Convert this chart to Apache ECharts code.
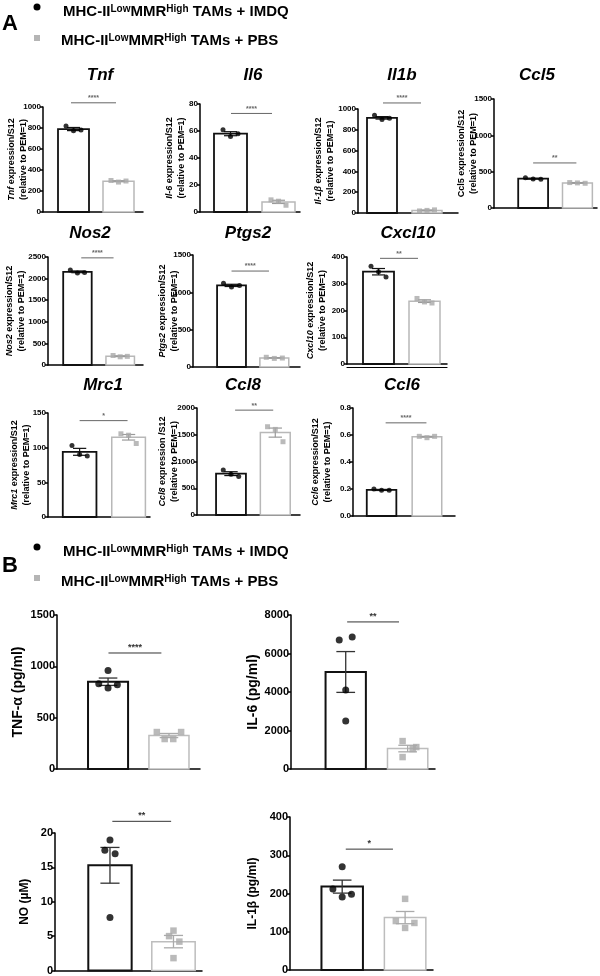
<!DOCTYPE html>
<html><head><meta charset="utf-8">
<script src="https://cdn.jsdelivr.net/npm/echarts@6/dist/echarts.min.js"></script>
<style>html,body{margin:0;padding:0;background:#fff}#c{width:600px;height:976px}</style>
</head><body><div id="c"></div>
<script>
// ================= DATA: panel A (qPCR, expression/S12 relative to PEM=1) =================
const genesA = ['Tnf','Il6','Il1b','Ccl5','Nos2','Ptgs2','Cxcl10','Mrc1','Ccl8','Ccl6'];
const yNamesA = ['{i|Tnf} expression/S12','{i|Il-6} expression/S12','{i|Il-1β} expression/S12','Ccl5 expression/S12',
  '{i|Nos2} expression/S12','{i|Ptgs2} expression/S12','{i|Cxcl10} expression/S12','{i|Mrc1} expression/S12',
  '{i|Ccl8} expression /S12','{i|Ccl6} expression/S12'];
const yMaxA  = [1000, 80, 1000, 1500, 2500, 1500, 400, 150, 2000, 0.8];
const yStepA = [200, 20, 200, 500, 500, 500, 100, 50, 500, 0.2];
const imdqMeanA = [790, 58, 915, 403, 2157, 1093, 345, 94, 773, 0.193];
const imdqSemA  = [15, 1.5, 12, 6, 20, 15, 12, 5, 36, 0.004];
const pbsMeanA  = [293, 7.5, 25, 345, 203, 122, 235, 115, 1540, 0.587];
const pbsSemA   = [5, 1.2, 4, 5, 9, 4, 5, 4, 85, 0.003];
const imdqPtsA = [[820,775,780],[61,56,58],[940,900,910],[415,400,395],[2200,2130,2140],
  [1120,1070,1090],[365,345,325],[103,90,88],[840,760,720],[0.20,0.19,0.19]];
const pbsPtsA = [[300,285,295],[9,8,5],[20,25,30],[350,345,340],[220,190,200],
  [130,115,120],[245,232,228],[120,118,106],[1650,1600,1370],[0.59,0.58,0.59]];
const sigA  = ['****','****','****','**','****','****','**','*','**','****'];
const sigYA = [1040, 73, 1058, 620, 2480, 1285, 395, 139, 1960, 0.69];

// ================= DATA: panel B (secreted mediators) =================
const yNamesB = ['TNF-α (pg/ml)','IL-6 (pg/ml)','NO (µM)','IL-1β (pg/ml)'];
const yMaxB  = [1500, 8000, 20, 400];
const yStepB = [500, 2000, 5, 100];
const imdqMeanB = [850, 5040, 15.3, 218];
const imdqSemB  = [36, 1060, 2.6, 17];
const pbsMeanB  = [326, 1062, 4.2, 137];
const pbsSemB   = [20, 170, 0.9, 16];
const imdqPtsB = [[960,830,790,820],[6700,6860,4100,2500],[19,17.5,17,7.7],[270,212,191,198]];
const pbsPtsB  = [[360,292,292,360],[1450,1140,1040,620],[5.8,5.0,4.2,1.8],[186,128,123,110]];
const sigB  = ['****','**','**','*'];
const sigYB = [1130, 7640, 21.7, 316];

// ================= LAYOUT (pixels / axis fractions) =================
const FONT = '"Liberation Sans", Arial, Helvetica, sans-serif';
// [left, right, top(max), bottom(0)]
const boxA = [[43,143,107,212],[200,300,104,212],[358,458,109,213],[494,597,99,208],
  [48,143,257,365],[193,300,255,367],[347,447,257,364],
  [48,150,413,517],[197,300,408,515],[353,455,408,516]];
const xPosA = [[0.305,0.755],[0.305,0.785],[0.24,0.69],[0.38,0.81],[0.31,0.76],[0.36,0.76],[0.315,0.775],
  [0.31,0.79],[0.33,0.76],[0.28,0.725]];
const barWA = [0.31,0.33,0.30,0.29,0.30,0.27,0.31,0.33,0.29,0.29];
const sigXA = [[0.28,0.73],[0.31,0.72],[0.25,0.63],[0.38,0.80],[0.35,0.69],[0.36,0.71],[0.33,0.71],
  [0.31,0.78],[0.37,0.74],[0.32,0.72]];
const nameGapA = [13,12,21,14,20,12,18,15,16,19];
const titlePosA = [[100,75],[253,75],[402,75],[537,75],[90,233],[248,233],[408,233],[103,385],[243,385],[402,385]];
const jitA = [-0.075, 0, 0.075];

const boxB = [[57,200,615,769],[291,435,615,769],[55,202,833,971],[290,433,817,970]];
const xPosB = [[0.357,0.783],[0.38,0.81],[0.374,0.806],[0.365,0.805]];
const barWB = [0.28,0.28,0.295,0.29];
const sigXB = [[0.36,0.73],[0.39,0.75],[0.39,0.79],[0.39,0.72]];
const nameGapB = [32,28,23,30];
const nameSizeB = [14,14,12,12];
const jitB = [
  [[0,-0.065,0,0.065],[-0.085,-0.03,0.03,0.085]],
  [[-0.045,0.045,0,0],[-0.035,0.06,0.035,-0.035]],
  [[0,-0.035,0.035,0],[0,-0.03,0.04,0]],
  [[0,-0.065,0,0.065],[0,-0.065,0.065,0]]
];

const grids=[], xAxes=[], yAxes=[], series=[], graphics=[];

function addPanel(o){
  const gi = grids.length;
  const [l,r,t,b] = o.box;
  grids.push({left:l, top:t, width:r-l, height:b-t});
  xAxes.push({gridIndex:gi, type:'value', min:0, max:1,
    axisLine:{show:true, onZero:false, lineStyle:{color:'#000', width:o.axisW}},
    axisTick:{show:false}, axisLabel:{show:false}, splitLine:{show:false}});
  if (o.doubleLine) {
    xAxes.push({gridIndex:gi, type:'value', min:0, max:1, position:'bottom', offset:3,
      axisLine:{show:true, onZero:false, lineStyle:{color:'#000', width:1.2}},
      axisTick:{show:false}, axisLabel:{show:false}, splitLine:{show:false}});
  }
  const xi = xAxes.length - (o.doubleLine ? 2 : 1);
  const ya = {gridIndex:gi, type:'value', min:0, max:o.yMax, interval:o.yStep,
    axisLine:{show:true, lineStyle:{color:'#000', width:o.axisW}},
    axisTick:{show:true, length:3, lineStyle:{color:'#000', width:o.axisW}},
    axisLabel:{fontSize:o.labelFont, fontWeight:'bold', color:'#000', margin:2, fontFamily:FONT,
      formatter: o.fmt || (v => String(Math.round(v)))},
    splitLine:{show:false},
    name:o.name, nameLocation:'middle', nameRotate:90, nameGap:o.nameGap,
    nameTextStyle:{fontSize:o.nameFont, fontWeight:'bold', color:'#000', fontFamily:FONT, lineHeight:o.nameLH,
      rich:{i:{fontStyle:'italic', fontWeight:'bold', fontSize:o.nameFont, fontFamily:FONT, color:'#000', lineHeight:o.nameLH}}}
  };
  if (o.noMove) ya.nameMoveOverlap = false;
  yAxes.push(ya);
  const yi = yAxes.length - 1;
  const centers = o.centers, bw = o.bw, cap = 0.13;
  const styles = o.styles;
  series.push({type:'custom', xAxisIndex:xi, yAxisIndex:yi, z:2, clip:false,
    encode:{x:0, y:1},
    data:[[0, o.means[0], o.sems[0]], [1, o.means[1], o.sems[1]]],
    renderItem:function(params, api){
      const g = api.value(0), m = api.value(1), s = api.value(2);
      const cx = centers[g];
      const top = api.coord([cx, m]);
      const base = api.coord([cx, 0]);
      const w = api.size([bw, 0])[0];
      const cw = api.size([cap, 0])[0];
      const hi = api.coord([cx, m + s]), lo = api.coord([cx, Math.max(0, m - s)]);
      const st = styles[g];
      const es = {stroke:st.err, lineWidth:st.elw};
      return {type:'group', children:[
        {type:'rect', shape:{x:top[0]-w/2, y:top[1], width:w, height:base[1]-top[1]},
          style:{fill:'#fff', stroke:st.stroke, lineWidth:st.lw}},
        {type:'line', shape:{x1:hi[0], y1:hi[1], x2:lo[0], y2:lo[1]}, style:es},
        {type:'line', shape:{x1:hi[0]-cw/2, y1:hi[1], x2:hi[0]+cw/2, y2:hi[1]}, style:es},
        {type:'line', shape:{x1:lo[0]-cw/2, y1:lo[1], x2:lo[0]+cw/2, y2:lo[1]}, style:es}
      ]};
    }});
  series.push({type:'scatter', xAxisIndex:xi, yAxisIndex:yi, z:5, symbol:'circle', symbolSize:o.dot,
    itemStyle:{color:'#000'},
    data:o.pts[0].map((v,k)=>[centers[0]+o.jit[0][k], v])});
  series.push({type:'scatter', xAxisIndex:xi, yAxisIndex:yi, z:5, symbol:'rect', symbolSize:o.sq,
    itemStyle:{color:'#a9a9a9'},
    data:o.pts[1].map((v,k)=>[centers[1]+o.jit[1][k], v])});
  const sx = o.sigX, sigText = o.sig, sc = o.sigColor, sf = o.sigFont;
  series.push({type:'custom', xAxisIndex:xi, yAxisIndex:yi, z:3, clip:false, encode:{x:0,y:1},
    data:[[0.5, o.sigY]],
    renderItem:function(params, api){
      const y = api.value(1);
      const p1 = api.coord([sx[0], y]), p2 = api.coord([sx[1], y]);
      return {type:'group', children:[
        {type:'line', shape:{x1:p1[0], y1:p1[1], x2:p2[0], y2:p2[1]}, style:{stroke:sc, lineWidth:1}},
        {type:'text', x:(p1[0]+p2[0])/2, y:p1[1]-1,
          style:{text:sigText, fill:sc, font:'bold '+sf+'px '+FONT, align:'center', verticalAlign:'bottom'}}
      ]};
    }});
}

const stylesA = [{stroke:'#111', lw:1.8, err:'#111', elw:1.2}, {stroke:'#b8b8b8', lw:1.5, err:'#9a9a9a', elw:1.2}];
const stylesB = [{stroke:'#111', lw:2, err:'#333', elw:1.3}, {stroke:'#bdbdbd', lw:1.5, err:'#aaa', elw:1.3}];

genesA.forEach((g,i)=>{
  addPanel({box:boxA[i], yMax:yMaxA[i], yStep:yStepA[i], axisW:1.5, labelFont:8,
    fmt: yMaxA[i] < 1 ? (v => v.toFixed(1)) : null,
    name: yNamesA[i] + '\n(relative to PEM=1)', nameGap:nameGapA[i], nameFont:9, nameLH:12, noMove:true,
    centers:xPosA[i], bw:barWA[i], styles:stylesA,
    means:[imdqMeanA[i], pbsMeanA[i]], sems:[imdqSemA[i], pbsSemA[i]],
    pts:[imdqPtsA[i], pbsPtsA[i]], jit:[jitA, jitA], dot:5, sq:5,
    sig:sigA[i], sigY:sigYA[i], sigX:sigXA[i], sigColor:'#666', sigFont:7,
    doubleLine: g === 'Cxcl10'});
  graphics.push({type:'text', x:titlePosA[i][0], y:titlePosA[i][1],
    style:{text:g, font:'italic bold 17px '+FONT, fill:'#000', align:'center', verticalAlign:'middle'}});
});

yNamesB.forEach((n,i)=>{
  addPanel({box:boxB[i], yMax:yMaxB[i], yStep:yStepB[i], axisW:1.5, labelFont:11,
    name:n, nameGap:nameGapB[i], nameFont:nameSizeB[i], nameLH:14,
    centers:xPosB[i], bw:barWB[i], styles:stylesB,
    means:[imdqMeanB[i], pbsMeanB[i]], sems:[imdqSemB[i], pbsSemB[i]],
    pts:[imdqPtsB[i], pbsPtsB[i]], jit:jitB[i], dot:7, sq:6.5,
    sig:sigB[i], sigY:sigYB[i], sigX:sigXB[i], sigColor:'#333', sigFont:9});
});

// legends & panel letters
function legend(letter, letterY, dotY, t1Y, sqY, t2Y){
  graphics.push({type:'text', x:10, y:letterY, style:{text:letter, font:'bold 22px '+FONT, fill:'#000', align:'center', verticalAlign:'middle'}});
  graphics.push({type:'circle', shape:{cx:37, cy:dotY, r:3.5}, style:{fill:'#000'}});
  graphics.push({type:'rect', shape:{x:34, y:sqY-3, width:6, height:6}, style:{fill:'#b5b5b5'}});
  const rich = {b:{fontSize:15, fontWeight:'bold', fontFamily:FONT, fill:'#000', color:'#000', verticalAlign:'bottom'},
                s:{fontSize:10, fontWeight:'bold', fontFamily:FONT, fill:'#000', color:'#000', verticalAlign:'top'}};
  graphics.push({type:'text', x:63, y:t1Y, style:{text:'{b|MHC-II}{s|Low}{b|MMR}{s|High}{b| TAMs + IMDQ}', rich:rich, verticalAlign:'middle', align:'left'}});
  graphics.push({type:'text', x:61, y:t2Y, style:{text:'{b|MHC-II}{s|Low}{b|MMR}{s|High}{b| TAMs + PBS}', rich:rich, verticalAlign:'middle', align:'left'}});
}
legend('A', 24, 7, 12, 38, 41);
legend('B', 566, 547, 552, 578, 582);

const chart = echarts.init(document.getElementById('c'), null, {renderer:'canvas'});
chart.setOption({
  animation:false,
  textStyle:{fontFamily:FONT},
  grid:grids, xAxis:xAxes, yAxis:yAxes, series:series, graphic:graphics
});
</script>
</body></html>
